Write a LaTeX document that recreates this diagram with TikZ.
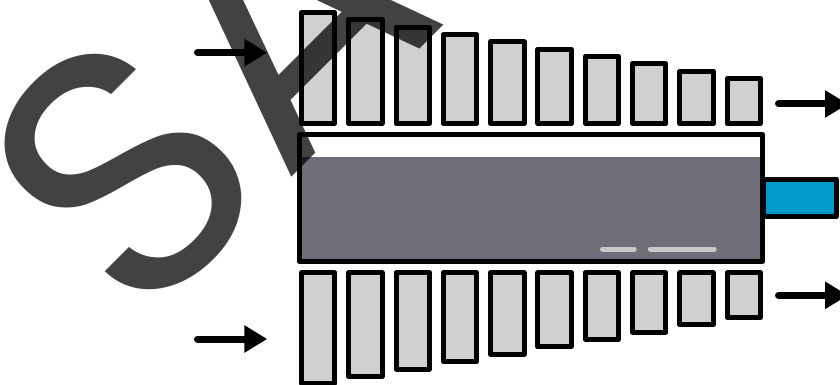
\documentclass[tikz,border=0pt]{standalone}
\usepackage{fontspec}
\setmainfont{Poppins}
\usetikzlibrary{arrows.meta}
\definecolor{barfill}{HTML}{D0D0D0}
\definecolor{chamber}{HTML}{6E6E78}
\definecolor{tipblue}{HTML}{0099CC}
\definecolor{tickgrey}{HTML}{C8C8C8}
\tikzset{
  barbox/.style={draw=black,fill=barfill,line width=5pt,line join=round,rectangle,inner sep=0pt,outer sep=0pt,minimum width=33.4pt},
  flow/.style={draw=black,line width=7pt,line cap=round,-{Triangle[length=23pt,width=26pt,sharp]}},
  tick/.style={draw=tickgrey,line width=5pt,line cap=round},
  framebox/.style={rectangle,draw=black,line width=5pt,line join=round,inner sep=0pt,outer sep=0pt},
}
\begin{document}
\begin{tikzpicture}[x=1pt,y=-1pt]
\useasboundingbox (0,0) rectangle (840,385);
\fill[white] (0,0) rectangle (840,385);
% upper and lower bars
\foreach \i in {0,...,9}{
  \pgfmathsetmacro{\cx}{318.1+47.3*\i}
  \pgfmathsetmacro{\ttop}{12.4+7.35*\i}
  \pgfmathsetmacro{\hup}{123.5-\ttop}
  \node[barbox,minimum height=\hup pt] (up\i) at (\cx,{(\ttop+123.5)/2}) {};
  \pgfmathsetmacro{\bbot}{317.2+7.4*(9-\i)}
  \pgfmathsetmacro{\hlo}{\bbot-272.8}
  \node[barbox,minimum height=\hlo pt] (lo\i) at (\cx,{(\bbot+272.8)/2}) {};
}
% main body
\node[rectangle,fill=white,inner sep=0pt,outer sep=0pt,minimum width=463.6pt,minimum height=126.6pt] (body) at (531.1,198) {};
\node[rectangle,fill=chamber,inner sep=0pt,outer sep=0pt,minimum width=463.6pt,minimum height=104.3pt] (fillzone) at (531.1,209.2) {};
\node[framebox,minimum width=463.6pt,minimum height=126.6pt] (frame) at (531.1,198) {};
\node[framebox,fill=tipblue,minimum width=73.5pt,minimum height=37.2pt] (tip) at (799.85,197.7) {};
% ticks
\coordinate (t1a) at (602.5,249); \coordinate (t1b) at (634.2,249);
\coordinate (t2a) at (650.2,249); \coordinate (t2b) at (714.2,249);
\draw[tick] (t1a) -- (t1b);
\draw[tick] (t2a) -- (t2b);
% arrows
\coordinate (a1s) at (197.5,52.7); \coordinate (a1e) at (267.3,52.7);
\coordinate (a2s) at (197.5,339); \coordinate (a2e) at (267.3,339);
\coordinate (a3s) at (778.5,104); \coordinate (a3e) at (848,104);
\coordinate (a4s) at (778.5,295.3); \coordinate (a4e) at (848,295.3);
\draw[flow] (a1s) -- (a1e);
\draw[flow] (a2s) -- (a2e);
\draw[flow] (a3s) -- (a3e);
\draw[flow] (a4s) -- (a4e);
% watermark
\begin{scope}
\clip (0,0) rectangle (840,385);
\node[anchor=base west,rotate=45,inner sep=0pt,outer sep=0pt,text=black,text opacity=.74] (mark) at (137,332) {\fontsize{354}{354}\selectfont SAMPLE};
\end{scope}
\end{tikzpicture}
\end{document}
